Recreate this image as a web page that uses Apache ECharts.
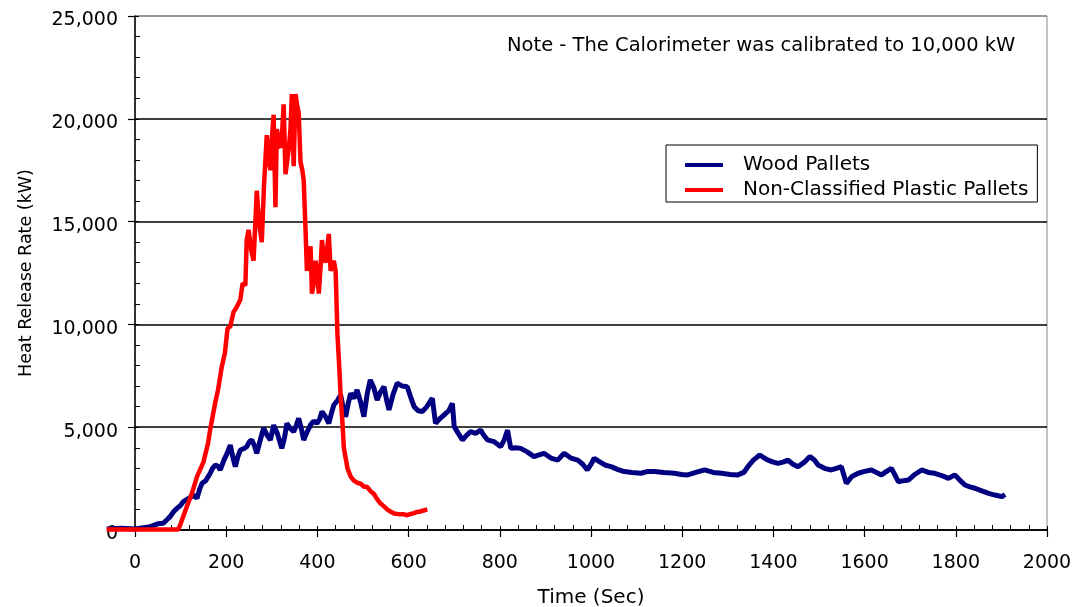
<!DOCTYPE html>
<html>
<head>
<meta charset="utf-8">
<script src="https://cdn.jsdelivr.net/npm/echarts@6/dist/echarts.min.js"></script>
<style>
  html, body { margin: 0; padding: 0; background: #fff; }
  #main { width: 1079px; height: 607px; }
</style>
</head>
<body>
<div id="main"></div>
<script>
// axis ranges
const xMin = 0, xMax = 2000, xStep = 200;
const yMin = 0, yMax = 25000, yStep = 5000;
// the logged data starts a little before time zero
const dataStart = -62;

// wood pallets: time (s) and heat release rate (kW)
const woodTime = [-62, -30, 0, 15, 33, 50, 62, 70, 77, 85, 92, 100, 106, 115, 124, 130, 136, 142, 147, 155,
  165, 170, 176, 182, 187, 195, 202, 209, 215, 220, 226, 231, 238, 245, 251, 256, 262, 267, 275, 282,
  290, 297, 304, 312, 322, 328, 333, 340, 348, 354, 359, 365, 370, 378, 385, 392, 399, 405, 410, 418,
  425, 431, 436, 444, 451, 457, 462, 468, 473, 480, 487, 495, 502, 509, 516, 524, 531, 538, 546, 552,
  557, 566, 575, 586, 597, 604, 612, 621, 630, 640, 652, 659, 668, 678, 688, 696, 700, 709, 718, 727,
  736, 747, 758, 765, 773, 787, 802, 810, 817, 824, 835, 846, 860, 875, 886, 897, 912, 927, 941, 956,
  971, 982, 992, 1000, 1007, 1020, 1032, 1044, 1058, 1073, 1090, 1110, 1125, 1139, 1160, 1183, 1198, 1212, 1230, 1249,
  1268, 1286, 1305, 1322, 1335, 1344, 1356, 1370, 1380, 1388, 1400, 1410, 1421, 1432, 1443, 1454, 1468, 1480, 1490, 1498,
  1512, 1527, 1538, 1549, 1560, 1572, 1586, 1600, 1615, 1626, 1637, 1648, 1659, 1674, 1685, 1696, 1710, 1725, 1740, 1754,
  1769, 1784, 1798, 1810, 1820, 1831, 1842, 1857, 1872, 1886, 1901, 1908];
const woodHrr = [50, 80, 50, 100, 160, 300, 330, 500, 650, 900, 1050, 1200, 1380, 1500, 1620, 1700, 1540, 2000, 2270, 2400,
  2760, 3000, 3160, 3100, 2920, 3400, 3730, 4130, 3500, 3080, 3600, 3890, 3950, 4050, 4300, 4380, 4100, 3730, 4400, 4950,
  4600, 4380, 5100, 4700, 3970, 4500, 5190, 4950, 4780, 5100, 5430, 4900, 4380, 4800, 5110, 5300, 5190, 5400, 5760, 5500,
  5190, 5700, 6080, 6300, 6570, 5900, 5510, 6200, 6650, 6400, 6810, 6200, 5510, 6600, 7300, 6900, 6320, 6700, 6970, 6300,
  5840, 6600, 7140, 7000, 6970, 6500, 6000, 5800, 5760, 6000, 6410, 5190, 5400, 5600, 5800, 6160, 5030, 4700, 4380, 4600,
  4780, 4700, 4860, 4600, 4380, 4300, 4050, 4400, 4860, 3970, 4000, 3970, 3800, 3570, 3650, 3730, 3500, 3400, 3730, 3500,
  3400, 3200, 2920, 3200, 3490, 3300, 3150, 3080, 2950, 2840, 2800, 2760, 2850, 2840, 2800, 2760, 2700, 2680, 2800, 2920,
  2800, 2760, 2700, 2680, 2800, 3080, 3400, 3650, 3500, 3400, 3300, 3240, 3300, 3400, 3200, 3080, 3300, 3570, 3400, 3160,
  3000, 2920, 3000, 3080, 2270, 2600, 2760, 2850, 2920, 2800, 2680, 2850, 3000, 2350, 2400, 2430, 2700, 2920, 2800, 2760,
  2650, 2510, 2680, 2400, 2190, 2100, 2030, 1900, 1780, 1700, 1620, 1730];

// non-classified plastic pallets: time (s) and heat release rate (kW)
const plasticTime = [-62, 0, 50, 95, 100, 113, 125, 136, 150, 160, 165, 176, 182, 190, 197, 203, 209, 216, 222, 231,
  236, 242, 245, 249, 255, 260, 264, 267, 272, 278, 283, 289, 293, 297, 300, 304, 308, 311, 315, 319,
  323, 326, 330, 334, 337, 341, 344, 348, 352, 356, 359, 363, 367, 370, 374, 377, 381, 385, 388, 392,
  396, 400, 403, 407, 410, 414, 418, 422, 425, 429, 433, 436, 440, 444, 448, 451, 455, 458, 462, 466,
  473, 480, 487, 495, 502, 509, 516, 524, 531, 538, 546, 553, 560, 568, 575, 583, 590, 597, 605, 612,
  619, 626, 633, 641];
const plasticHrr = [30, 20, 20, 30, 300, 1100, 1800, 2600, 3300, 4200, 4900, 6200, 6800, 7900, 8600, 9800, 9900, 10600, 10800, 11200,
  12000, 11900, 14100, 14600, 13600, 13100, 15000, 16500, 15000, 14000, 16800, 19200, 18000, 17500, 19000, 20200, 15700, 19500, 18700, 18600,
  19500, 20700, 17300, 18000, 18500, 19500, 21200, 17700, 21200, 20600, 20300, 17900, 17500, 17000, 14600, 12600, 13200, 13800, 11500, 12000,
  13100, 12400, 11500, 12800, 14100, 13300, 13000, 13800, 14400, 12600, 12900, 13100, 12600, 9500, 7900, 6500, 5200, 4000, 3500, 3000,
  2600, 2400, 2300, 2250, 2100, 2100, 1900, 1750, 1500, 1300, 1150, 1000, 900, 800, 780, 760, 760, 720, 780, 820,
  880, 900, 950, 1000];

const zip = (xs, ys) => xs.map((x, i) => [x, ys[i]]);
const FONT = 'DejaVu Sans';

// plot box of the visible axes
const W = 1079;
const gridBox = { left: 135, right: 32, top: 16, bottom: 77 };
// data grid: same scale, just widened on the left so the pre-zero samples show
const pxPerSec = (W - gridBox.left - gridBox.right) / (xMax - xMin);
const dataGridLeft = gridBox.left - (xMin - dataStart) * pxPerSec;

const chart = echarts.init(document.getElementById('main'), null, { renderer: 'canvas' });

chart.setOption({
  animation: false,
  backgroundColor: '#fff',
  title: {
    text: 'Note - The Calorimeter was calibrated to 10,000 kW',
    left: 502,
    top: 31,
    textStyle: { fontFamily: FONT, fontSize: 19.5, fontWeight: 'normal', color: '#000' }
  },
  legend: {
    data: ['Wood Pallets', 'Non-Classified Plastic Pallets'],
    orient: 'vertical',
    left: 666,
    top: 145,
    padding: [9, 9, 1, 19],
    itemGap: 3,
    itemWidth: 38,
    itemHeight: 4,
    icon: 'rect',
    borderColor: '#000',
    borderWidth: 1,
    borderRadius: 0,
    textStyle: { fontFamily: FONT, fontSize: 20, color: '#000', lineHeight: 22, padding: [0, 0, 0, 15] }
  },
  grid: [
    Object.assign({ containLabel: false, outerBoundsMode: 'none', show: true, borderColor: '#888', borderWidth: 1 }, gridBox),
    { left: dataGridLeft, right: gridBox.right, top: gridBox.top, bottom: gridBox.bottom,
      containLabel: false, outerBoundsMode: 'none', show: false }
  ],
  xAxis: [
    {
      type: 'value', gridIndex: 0, min: xMin, max: xMax, interval: xStep,
      name: 'Time (Sec)', nameLocation: 'middle', nameGap: 58,
      nameTextStyle: { fontFamily: FONT, fontSize: 20, color: '#000' },
      axisLine: { onZero: false, lineStyle: { color: '#000', width: 1.5 } },
      axisTick: { length: 7, lineStyle: { color: '#000', width: 1.2 } },
      axisLabel: { margin: 24, fontFamily: FONT, fontSize: 19, color: '#000', formatter: v => String(v) },
      splitLine: { show: false }
    },
    {
      type: 'value', gridIndex: 0, min: xMin, max: xMax, interval: xStep, position: 'bottom',
      axisLine: { show: false, onZero: false },
      axisTick: { show: true, inside: true, length: 4, lineStyle: { color: '#000', width: 1 } },
      minorTick: { show: true, splitNumber: 5, length: 5, lineStyle: { color: '#000', width: 1 } },
      axisLabel: { show: false },
      splitLine: { show: false }
    },
    { type: 'value', gridIndex: 1, min: dataStart, max: xMax, show: false }
  ],
  yAxis: [
    {
      type: 'value', gridIndex: 0, min: yMin, max: yMax, interval: yStep,
      name: 'Heat Release Rate (kW)', nameLocation: 'middle', nameGap: 100,
      nameTextStyle: { fontFamily: FONT, fontSize: 17.5, color: '#000' },
      axisLine: { show: true, onZero: false, lineStyle: { color: '#000', width: 1.5 } },
      axisTick: { show: true, length: 7, lineStyle: { color: '#000', width: 1.2 } },
      axisLabel: {
        margin: 17, color: '#000',
        formatter: v => '{n|' + String(v).replace(/\B(?=(\d{3})+(?!\d))/g, ',') + '}',
        rich: { n: { fontFamily: FONT, fontSize: 19, color: '#000', padding: [9, 0, 0, 0] } }
      },
      splitLine: {
        show: true,
        lineStyle: { color: ['#000', '#000', '#000', '#000', '#000', '#888'], width: 1.5 }
      }
    },
    {
      type: 'value', gridIndex: 0, min: yMin, max: yMax, interval: yStep, position: 'left',
      axisLine: { show: false, onZero: false },
      axisTick: { show: true, inside: true, length: 4, lineStyle: { color: '#000', width: 1 } },
      minorTick: { show: true, splitNumber: 5, length: 5, lineStyle: { color: '#000', width: 1 } },
      axisLabel: { show: false },
      splitLine: { show: false }
    },
    { type: 'value', gridIndex: 1, min: yMin, max: yMax, show: false }
  ],
  series: [
    {
      name: 'Wood Pallets',
      type: 'line',
      xAxisIndex: 2, yAxisIndex: 2,
      data: zip(woodTime, woodHrr),
      showSymbol: false,
      clip: false,
      color: '#000080',
      lineStyle: { color: '#000080', width: 5 },
      z: 3
    },
    {
      name: 'Non-Classified Plastic Pallets',
      type: 'line',
      xAxisIndex: 2, yAxisIndex: 2,
      data: zip(plasticTime, plasticHrr),
      showSymbol: false,
      clip: false,
      color: '#ff0000',
      lineStyle: { color: '#ff0000', width: 4.5 },
      z: 4
    }
  ]
});
</script>
</body>
</html>
